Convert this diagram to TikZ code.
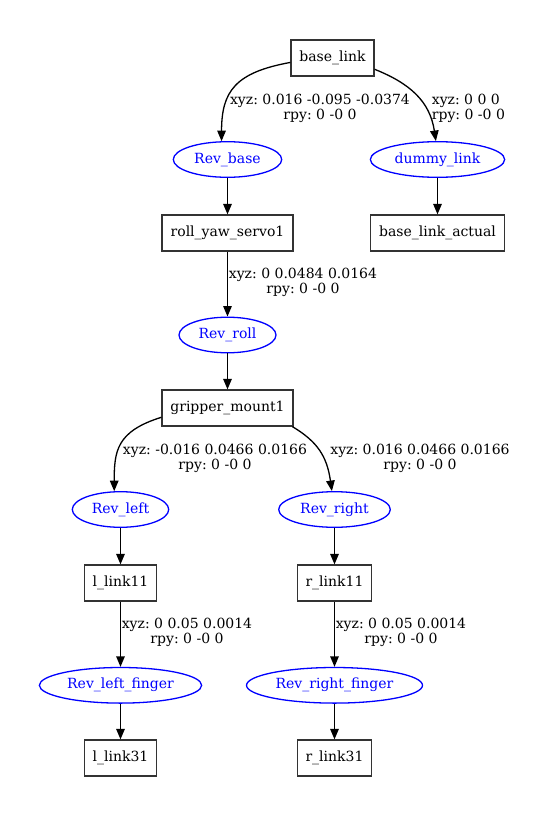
\documentclass[tikz,border=0pt]{standalone}
\usepackage{fontspec}
\setmainfont{DejaVu Serif}
\usetikzlibrary{shapes.geometric,arrows.meta}
\definecolor{boxline}{HTML}{333333}
\definecolor{jointblue}{HTML}{0000FF}
\frenchspacing
\begin{document}
\begin{tikzpicture}[x=1pt,y=-1pt,
  every node/.style={font=\fontsize{14}{15}\selectfont},
  linkbox/.style={draw=boxline,line width=1.2pt,rectangle,inner sep=0pt,minimum height=36pt},
  joint/.style={draw=jointblue,text=jointblue,line width=1.3pt,ellipse,inner sep=0pt,minimum height=35.6pt},
  edge/.style={draw=black,line width=1.3pt,-{Triangle[length=10.5pt,width=8.5pt]}},
  elabel/.style={align=center,inner sep=0pt}
]
\useasboundingbox (0,0) rectangle (556,816);
% links
\node[linkbox,minimum width=83pt] (bl) at (332.5,58) {base\_link};
\node[linkbox,minimum width=131pt] (rys) at (227.5,233) {roll\_yaw\_servo1};
\node[linkbox,minimum width=133.5pt] (bla) at (437.5,233) {base\_link\_actual};
\node[linkbox,minimum width=131pt] (gm) at (227.5,408) {gripper\_mount1};
\node[linkbox,minimum width=72.5pt] (ll11) at (120.5,583) {l\_link11};
\node[linkbox,minimum width=74.5pt] (rl11) at (334.5,583) {r\_link11};
\node[linkbox,minimum width=72.5pt] (ll31) at (120.5,758) {l\_link31};
\node[linkbox,minimum width=74.5pt] (rl31) at (334.5,758) {r\_link31};
% joints
\node[joint,minimum width=108.4pt] (rb) at (227.5,159.5) {Rev\_base};
\node[joint,minimum width=134.3pt] (dl) at (437.5,159.5) {dummy\_link};
\node[joint,minimum width=97pt] (rroll) at (227.5,335) {Rev\_roll};
\node[joint,minimum width=96.4pt] (rleft) at (120.5,509.5) {Rev\_left};
\node[joint,minimum width=111.6pt] (rright) at (334.5,509.5) {Rev\_right};
\node[joint,minimum width=162.3pt] (rlf) at (120.5,685.3) {Rev\_left\_finger};
\node[joint,minimum width=176pt] (rrf) at (334.5,685.3) {Rev\_right\_finger};
% edges
\draw[edge] (bl.186) .. controls +(-55,10) and +(0,-50) .. (rb.108);
\draw[edge] (bl.-15) .. controls +(35,14) and +(-6,-40) .. (dl.95);
\draw[edge] (rb.south) -- (rys.north -| rb.south);
\draw[edge] (dl.south) -- (bla.north -| dl.south);
\draw[edge] (rys.south) -- (rroll.north -| rys.south);
\draw[edge] (rroll.south) -- (gm.north -| rroll.south);
\draw[edge] (gm.188) .. controls +(-45,14) and +(0,-40) .. (rleft.109);
\draw[edge] (gm.-16.5) .. controls +(25,15) and +(-5,-35) .. (rright.98);
\draw[edge] (rleft.south) -- (ll11.north -| rleft.south);
\draw[edge] (rright.south) -- (rl11.north -| rright.south);
\draw[edge] (ll11.south) -- (rlf.north -| ll11.south);
\draw[edge] (rl11.south) -- (rrf.north -| rl11.south);
\draw[edge] (rlf.south) -- (ll31.north -| rlf.south);
\draw[edge] (rrf.south) -- (rl31.north -| rrf.south);
% edge labels
\node[elabel] (lb1) at (320,108) {xyz: 0.016 -0.095 -0.0374\\rpy: 0 -0 0};
\node[elabel,align=left,anchor=west] (lb2) at (431.7,108) {xyz: 0 0 0\\rpy: 0 -0 0};
\node[elabel] (lb3) at (303,282) {xyz: 0 0.0484 0.0164\\rpy: 0 -0 0};
\node[elabel] (lb4) at (215,458) {xyz: -0.016 0.0466 0.0166\\rpy: 0 -0 0};
\node[elabel] (lb5) at (420,458) {xyz: 0.016 0.0466 0.0166\\rpy: 0 -0 0};
\node[elabel] (lb6) at (187,632.5) {xyz: 0 0.05 0.0014\\rpy: 0 -0 0};
\node[elabel] (lb7) at (401,632.5) {xyz: 0 0.05 0.0014\\rpy: 0 -0 0};
\end{tikzpicture}
\end{document}
